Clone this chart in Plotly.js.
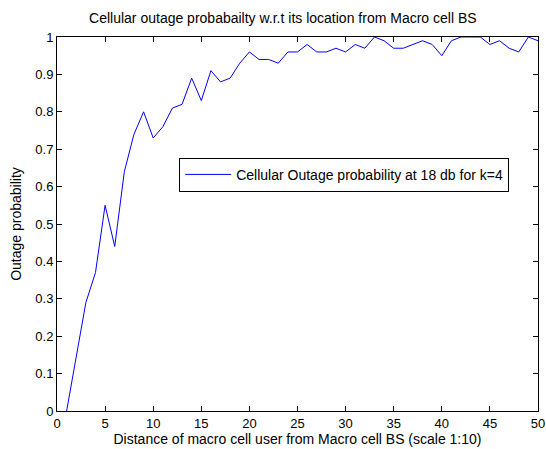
<!DOCTYPE html>
<html>
<head>
<meta charset="utf-8">
<script src="https://cdn.plot.ly/plotly-3.0.1.min.js"></script>
<style>html,body{margin:0;padding:0;background:#fff;}#chart{width:546px;height:449px;}</style>
</head>
<body>
<div id="chart"></div>
<script>
const distance = [1,2,3,4,5,6,7,8,9,10,11,12,13,14,15,16,17,18,19,20,21,22,23,24,25,26,27,28,29,30,31,32,33,34,35,36,37,38,39,40,41,42,43,44,45,46,47,48,49,50];
const outageProb = [0,0.14,0.29,0.37,0.55,0.44,0.64,0.74,0.80,0.73,0.76,0.81,0.82,0.89,0.83,0.91,0.88,0.89,0.93,0.96,0.94,0.94,0.93,0.96,0.96,0.98,0.96,0.96,0.97,0.96,0.98,0.97,1.0,0.99,0.97,0.97,0.98,0.99,0.98,0.95,0.99,1.0,1.0,1.0,0.98,0.99,0.97,0.96,1.0,0.99];
const seriesName = "Cellular Outage probability at 18 db for k=4";
const xTicks = [0,5,10,15,20,25,30,35,40,45,50];
const yTicks = [0,0.1,0.2,0.3,0.4,0.5,0.6,0.7,0.8,0.9,1];

const font = {family: "Liberation Sans, Arial, sans-serif", size: 13, color: "#000"};
Plotly.newPlot("chart", [{
  x: distance, y: outageProb, type: "scatter", mode: "lines", name: seriesName,
  line: {color: "#0000ff", width: 1}
}], {
  width: 546, height: 449,
  margin: {l: 57, r: 8, t: 37, b: 38},
  paper_bgcolor: "#fff", plot_bgcolor: "#fff",
  font: font,
  showlegend: true,
  title: {text: "Cellular outage probabailty w.r.t its location from Macro cell BS", font: {family: font.family, size: 14, color: "#000"}, x: 0.518, xanchor: "center", y: 0.96, yanchor: "middle", xref: "container", yref: "container"},
  xaxis: {range: [0, 50], tickvals: xTicks, ticks: "inside", ticklen: 5, tickcolor: "#000", showline: true, linecolor: "#000", linewidth: 1, mirror: "ticks", showgrid: false, zeroline: false, tickfont: {size: 13}, title: {text: "Distance of macro cell user from Macro cell BS (scale 1:10)", font: {size: 14}, standoff: 2}},
  yaxis: {range: [0, 1], tickvals: yTicks, ticks: "inside", ticklen: 5, tickcolor: "#000", showline: true, linecolor: "#000", linewidth: 1, mirror: "ticks", showgrid: false, zeroline: false, tickfont: {size: 13}, title: {text: "Outage probability", font: {size: 14}, standoff: 10}},
  legend: {x: 0.254, y: 0.677, xanchor: "left", yanchor: "top", bordercolor: "#000", borderwidth: 1, bgcolor: "#fff", font: {size: 14}, itemwidth: 46, tracegroupgap: 0}
}, {displayModeBar: false, staticPlot: true});
</script>
</body>
</html>
